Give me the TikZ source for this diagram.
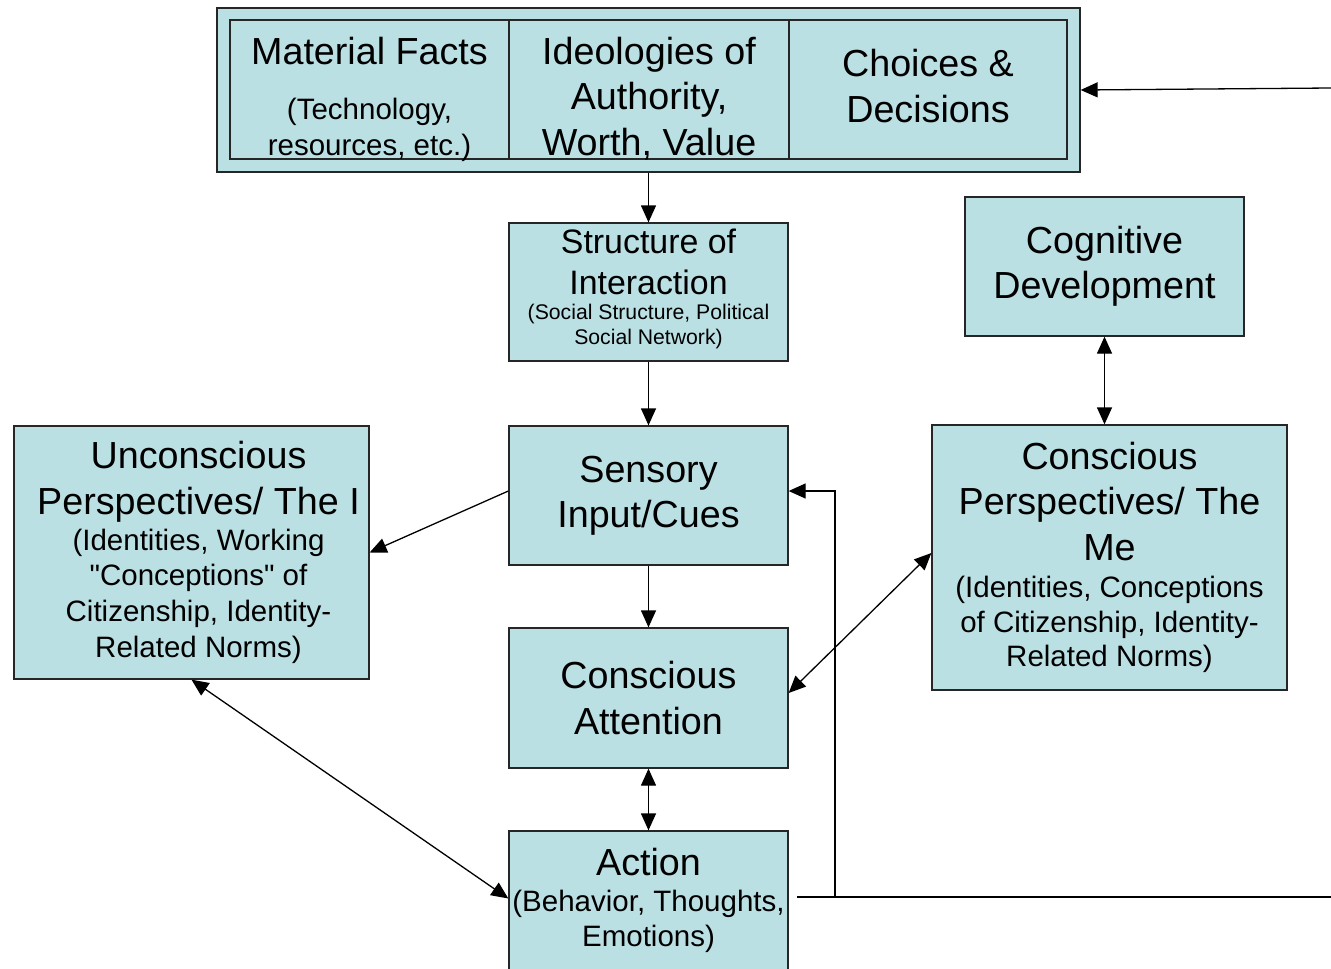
\documentclass[tikz,border=0pt]{standalone}
\usepackage{fontspec}
\setmainfont{Liberation Sans}
\newfontfamily\arialfont{Liberation Sans}
\usetikzlibrary{arrows.meta}
\definecolor{boxblue}{RGB}{187,224,228}
\newcommand\fixsp{\spaceskip=\fontdimen2\font\xspaceskip=\fontdimen2\font\relax}
\newcommand\bigtxt{\arialfont\fontsize{37.7}{45.5}\selectfont\fixsp}
\newcommand\midtxt{\arialfont\fontsize{33.9}{41}\selectfont\fixsp}
\newcommand\smalltxt{\arialfont\fontsize{29.5}{35.8}\selectfont\fixsp}
\newcommand\tinytxt{\arialfont\fontsize{21.2}{25}\selectfont\fixsp}
\begin{document}
\begin{tikzpicture}[x=1pt,y=-1pt,
  box/.style={draw=black!85, fill=boxblue, line width=1.3pt, inner sep=0pt, align=center},
  txt/.style={inner sep=0pt, align=center},
  cellline/.style={draw=black!85, line width=1.3pt},
  arr/.style={line width=1.3pt, -{Triangle[length=17pt,width=15pt]}},
  darr/.style={line width=1.3pt, {Triangle[length=17pt,width=15pt]}-{Triangle[length=17pt,width=15pt]}},
  plain/.style={line width=1.3pt}]
\useasboundingbox (0,0) rectangle (1331,969);
\clip (0,0) rectangle (1331,969);
% top composite box
\node[box, minimum width=863pt, minimum height=164pt] (top) at (648.5,90) {};
\node[cellline, inner sep=0pt, minimum width=837pt, minimum height=139pt] (inner) at (648.5,89.5) {};
\draw[cellline] (inner.north -| 509,0) -- (inner.south -| 509,0);
\draw[cellline] (inner.north -| 789,0) -- (inner.south -| 789,0);
\node[txt, text width=275pt] (mf) at (369.5,99.5)
  {\bigtxt Material Facts\par\vspace{19pt}\smalltxt (Technology,\\ resources, etc.)\par};
\node[txt, text width=276pt] (ideo) at (649,98.5)
  {\bigtxt Ideologies of\\ Authority,\\ Worth, Value\par};
\node[txt, text width=274pt] (choice) at (928,86)
  {\bigtxt Choices \&\\ Decisions\par};
% middle column
\node[box, minimum width=279pt, minimum height=138pt, text width=275pt] (struct) at (648.5,292)
  {\midtxt Structure of\\ Interaction\par\tinytxt (Social Structure, Political\\ Social Network)\par\vspace{7pt}\nointerlineskip\hbox{}};
\node[box, minimum width=279pt, minimum height=139pt, text width=275pt] (sens) at (648.5,495.5)
  {\bigtxt Sensory\\ Input/Cues\par};
\node[box, minimum width=279pt, minimum height=140pt, text width=275pt] (catt) at (648.5,698)
  {\bigtxt Conscious\\ Attention\par};
\node[box, minimum width=279pt, minimum height=139pt, text width=275pt] (action) at (648.5,900.5)
  {\bigtxt Action\par\smalltxt (Behavior, Thoughts,\\ Emotions)\par};
% left
\node[box, minimum width=355pt, minimum height=253pt, text width=351pt] (uncon) at (191.5,552.5)
  {\leftskip=14pt plus 1fil\rightskip=0pt plus 1fil\parfillskip=0pt
   \bigtxt Unconscious\\ Perspectives/ The I\par\smalltxt (Identities, Working\\ "Conceptions" of\\ Citizenship, Identity-\\ Related Norms)\par\vspace{2pt}};
% right
\node[box, minimum width=279pt, minimum height=139pt, text width=275pt] (cog) at (1104.5,266.5)
  {\bigtxt Cognitive\\ Development\par};
\node[box, minimum width=355pt, minimum height=265pt, text width=351pt] (cper) at (1109.5,557.5)
  {\bigtxt Conscious\\ Perspectives/ The\\ Me\par\vspace{3pt}\arialfont\fontsize{29.5}{34.5}\selectfont\fixsp (Identities, Conceptions\\ of Citizenship, Identity-\\ Related Norms)\par};
% connectors
\draw[arr] (top.south) -- (struct.north);
\draw[arr] (struct.south) -- (sens.north);
\draw[arr] (sens.south) -- (catt.north);
\draw[darr] (catt.south) -- (action.north);
\draw[darr] (cog.south) -- (cog.south |- cper.north);
\draw[arr] ([yshift=4.5pt]sens.west) -- (uncon.east);
\draw[darr] (uncon.south) -- ([yshift=2pt]action.west);
\draw[darr] ([yshift=5pt]catt.east) -- ([yshift=4.5pt]cper.west);
\coordinate (fbstart) at (797,897);
\coordinate (fbjoin) at (835,897);
\coordinate (fbright) at (1331,897);
\draw[plain] (fbstart) -- (fbright);
\draw[arr] (fbjoin) |- ([yshift=4.5pt]sens.east);
\coordinate (rin) at (1331,88);
\draw[arr] (rin) -- (top.east);
\end{tikzpicture}
\end{document}
